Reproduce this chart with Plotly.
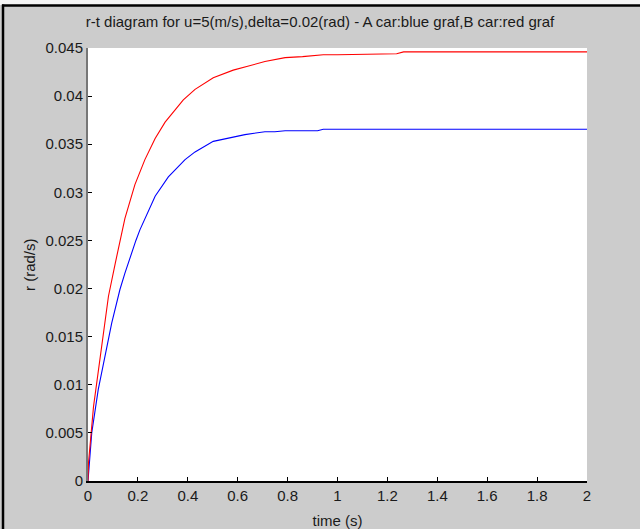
import plotly.graph_objects as go

# Data
t_red = [0, 0.002, 0.022, 0.045, 0.062, 0.082, 0.109, 0.128, 0.148, 0.188, 0.228, 0.269,
         0.309, 0.382, 0.429, 0.502, 0.582, 0.64, 0.709, 0.79, 0.86, 0.943, 1.0, 1.237,
         1.265, 2.0]
r_red = [0, 0.0019, 0.0077, 0.0122, 0.0157, 0.0192, 0.0226, 0.0250, 0.0273, 0.0308, 0.0334,
         0.0356, 0.0373, 0.0396, 0.0407, 0.0419, 0.0427, 0.0431, 0.0436, 0.0440, 0.0441,
         0.0443, 0.0443, 0.0444, 0.0446, 0.0446]

t_blue = [0, 0.015, 0.041, 0.069, 0.095, 0.128, 0.148, 0.192, 0.208, 0.269, 0.322, 0.389,
          0.429, 0.502, 0.629, 0.709, 0.749, 0.79, 0.92, 0.943, 2.0]
r_blue = [0, 0.0050, 0.0095, 0.0129, 0.0164, 0.0199, 0.0216, 0.0250, 0.0261, 0.0296, 0.0316,
          0.0334, 0.0342, 0.0353, 0.0360, 0.0363, 0.0363, 0.0364, 0.0364, 0.03655, 0.03655]

x_ticks = [0, 0.2, 0.4, 0.6, 0.8, 1, 1.2, 1.4, 1.6, 1.8, 2]
x_labels = ["0", "0.2", "0.4", "0.6", "0.8", "1", "1.2", "1.4", "1.6", "1.8", "2"]
y_ticks = [0, 0.005, 0.01, 0.015, 0.02, 0.025, 0.03, 0.035, 0.04, 0.045]
y_labels = ["0", "0.005", "0.01", "0.015", "0.02", "0.025", "0.03", "0.035", "0.04", "0.045"]

W, H = 640, 529
L, R, T, B = 88, 53, 48, 48
pw, ph = W - L - R, H - T - B


def px_x(p):
    return (p - L) / pw


def px_y(p):
    return (H - B - p) / ph


fig = go.Figure()
fig.add_trace(go.Scatter(x=t_blue, y=r_blue, mode="lines",
                         line=dict(color="#0000ff", width=1.1), showlegend=False))
fig.add_trace(go.Scatter(x=t_red, y=r_red, mode="lines",
                         line=dict(color="#ff0000", width=1.1), showlegend=False))

font = "Liberation Sans, Arial, sans-serif"
fs = 15
fig.update_layout(
    width=W, height=H,
    margin=dict(l=L, r=R, t=T, b=B, autoexpand=False),
    paper_bgcolor="#cccccc",
    plot_bgcolor="#ffffff",
    font=dict(family=font, size=fs, color="#1a1a1a"),
    title=dict(text="r-t diagram for u=5(m/s),delta=0.02(rad) - A car:blue graf,B car:red graf",
               x=0.5, xanchor="center", y=1 - 22 / H, yanchor="middle",
               xref="container", font=dict(size=fs, family=font, color="#1a1a1a")),
    xaxis=dict(range=[0, 2], tickvals=x_ticks, ticktext=x_labels, ticks="inside",
               ticklen=4, tickcolor="#000000", showgrid=False, zeroline=False,
               showline=True, linecolor="#000000", linewidth=1.5, automargin=False,
               title=dict(text="time (s)", font=dict(size=fs)),
               tickfont=dict(size=fs)),
    yaxis=dict(range=[0, 0.045], tickvals=y_ticks, ticktext=y_labels, ticks="inside",
               ticklen=4, tickcolor="#000000", showgrid=False, zeroline=False,
               showline=True, linecolor="#777777", linewidth=2, automargin=False,
               tickfont=dict(size=fs)),
)

fig.add_annotation(text="r (rad/s)", xref="paper", yref="paper",
                   x=px_x(29), y=px_y(265), xanchor="center", yanchor="middle",
                   textangle=-90, showarrow=False, font=dict(size=fs, family=font))

# outer frame: light strip at top, black border at top and left
fig.add_shape(type="rect", xref="paper", yref="paper",
              x0=px_x(0), x1=px_x(W), y0=px_y(5), y1=px_y(0),
              fillcolor="#f4f4f4", line=dict(width=0), layer="below")
fig.add_shape(type="line", xref="paper", yref="paper",
              x0=px_x(2), x1=px_x(W), y0=px_y(5.5), y1=px_y(5.5),
              line=dict(color="#000000", width=2.5))
fig.add_shape(type="line", xref="paper", yref="paper",
              x0=px_x(3), x1=px_x(3), y0=px_y(4.5), y1=px_y(H),
              line=dict(color="#000000", width=2.5))

fig.write_html("out.html")
